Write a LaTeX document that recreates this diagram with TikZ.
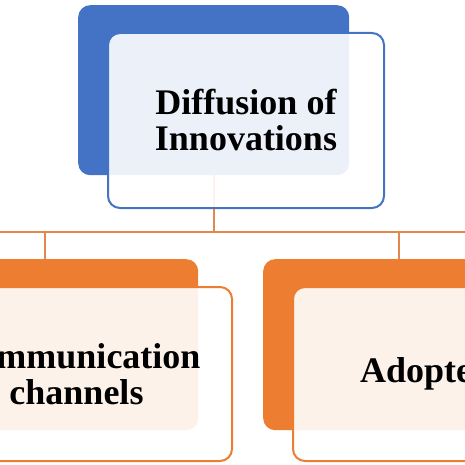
\documentclass[tikz,border=0pt]{standalone}
\usepackage{fontspec}
\setmainfont{Liberation Serif}
\definecolor{dblue}{HTML}{4472C4}
\definecolor{dorange}{HTML}{ED7D31}
\definecolor{lineor}{HTML}{E2884C}
\begin{document}
\begin{tikzpicture}[x=1pt,y=-1pt,
  backbox/.style={rectangle,rounded corners=12pt,inner sep=0pt,anchor=north west,draw=none},
  frontbox/.style={rectangle,rounded corners=12pt,inner sep=0pt,anchor=north west,
     fill=white,fill opacity=0.9,text opacity=1,line width=2pt,
     font=\fontsize{36}{36}\selectfont\bfseries,align=center},
  conn/.style={draw=lineor,line width=2pt}]
\useasboundingbox (0,0) rectangle (465,465);
% top
\node[backbox,fill=dblue,minimum width=271pt,minimum height=170pt] (topB) at (78,5) {};
\coordinate (busL) at (0,232);
\coordinate (busR) at (465,232);
\draw[conn] (topB.south) -- (topB.south |- busL);
\node[frontbox,draw=dblue,minimum width=276pt,minimum height=175pt] (topF) at (107,32) {Diffusion of\\Innovations};
% bus
\draw[conn] (busL) -- (busR);
% left
\node[backbox,fill=dorange,minimum width=306pt,minimum height=171pt] (leftB) at (-108,259) {};
\node[frontbox,draw=dorange,minimum width=311pt,minimum height=174pt] (leftF) at (-80,286) {Communication\\channels};
\draw[conn] (leftB.north |- busL) -- (leftB.north);
% right
\node[backbox,fill=dorange,minimum width=271pt,minimum height=171pt] (rightB) at (263,259) {};
\node[frontbox,draw=dorange,minimum width=276pt,minimum height=174pt] (rightF) at (292,286) {Adopters};
\draw[conn] (rightB.north |- busL) -- (rightB.north);
\end{tikzpicture}
\end{document}
